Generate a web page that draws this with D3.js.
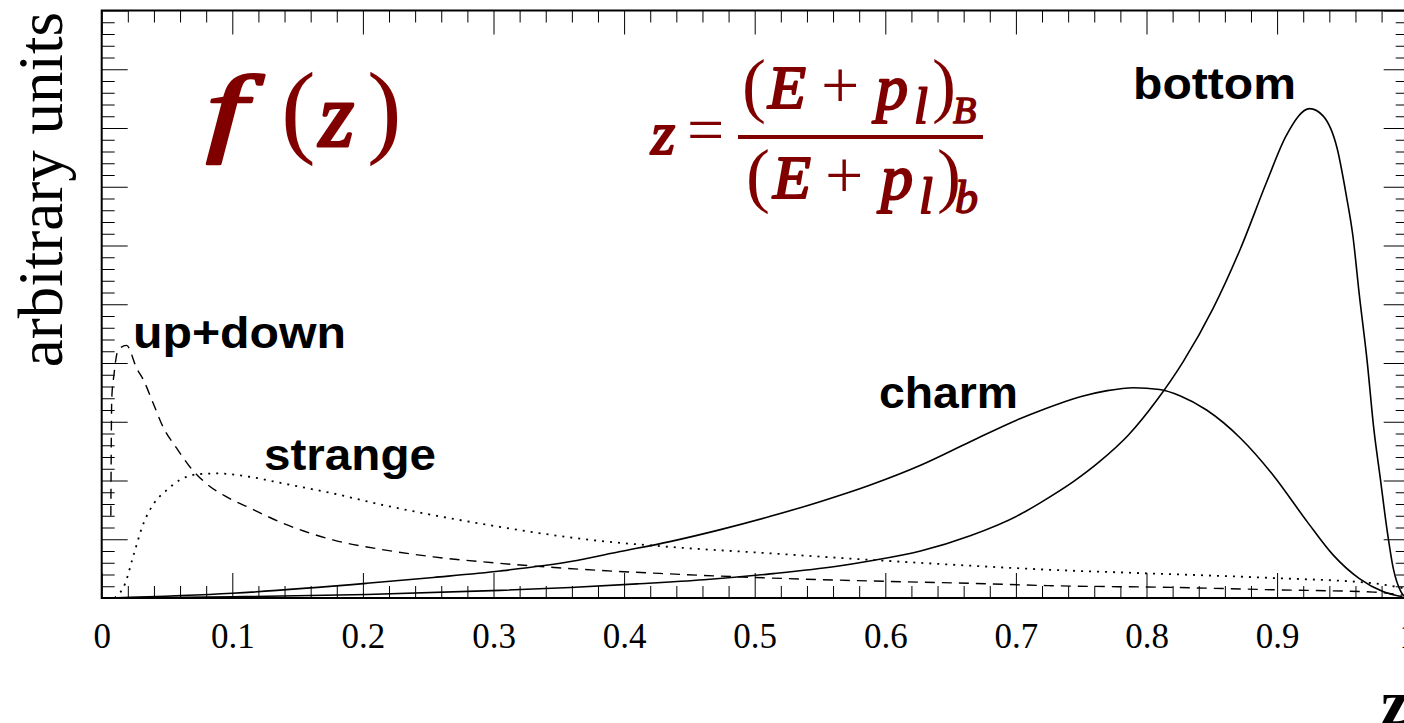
<!DOCTYPE html>
<html>
<head>
<meta charset="utf-8">
<script src="https://cdn.jsdelivr.net/npm/d3@7"></script>
<style>
  html, body { margin: 0; padding: 0; background: #fff; }
  svg { display: block; }
</style>
</head>
<body>
<div id="chart"></div>
<script>
// ---------------- data ----------------
const xMajorTicks = [0, 0.1, 0.2, 0.3, 0.4, 0.5, 0.6, 0.7, 0.8, 0.9, 1.0];
const xTickLabels = ["0", "0.1", "0.2", "0.3", "0.4", "0.5", "0.6", "0.7", "0.8", "0.9", "1"];
const yMajorTicks = [0, 1, 2, 3, 4, 5, 6, 7, 8, 9, 10];

const upDownZ = [0.0070, 0.0077, 0.0094, 0.0125, 0.019, 0.0268, 0.032, 0.0395, 0.047, 0.0574, 0.0676, 0.080, 0.0957, 0.1136, 0.139, 0.177, 0.216, 0.254, 0.305, 0.366, 0.435, 0.512, 0.588, 0.665, 0.726, 0.82, 0.897, 0.974, 0.996];
const upDownV = [1.40, 3.40, 3.80, 4.22, 4.30, 3.91, 3.71, 3.31, 2.91, 2.55, 2.23, 1.95, 1.72, 1.53, 1.27, 0.99, 0.82, 0.70, 0.59, 0.49, 0.41, 0.34, 0.29, 0.25, 0.21, 0.18, 0.14, 0.10, 0.05];

const strangeZ = [0.010, 0.018, 0.024, 0.032, 0.040, 0.050, 0.060, 0.075, 0.088, 0.114, 0.139, 0.177, 0.216, 0.254, 0.305, 0.366, 0.435, 0.512, 0.588, 0.665, 0.726, 0.80, 0.897, 0.974, 0.996];
const strangeV = [0.0, 0.25, 0.70, 1.27, 1.61, 1.84, 2.01, 2.11, 2.12, 2.06, 1.95, 1.78, 1.58, 1.41, 1.21, 1.01, 0.87, 0.76, 0.65, 0.55, 0.48, 0.42, 0.34, 0.25, 0.17];

const charmZ = [0.006, 0.10, 0.203, 0.254, 0.305, 0.359, 0.397, 0.435, 0.473, 0.512, 0.550, 0.588, 0.627, 0.665, 0.703, 0.720, 0.750, 0.770, 0.790, 0.810, 0.826, 0.846, 0.872, 0.897, 0.923, 0.943, 0.963, 0.981, 0.996];
const charmV = [0.0, 0.08, 0.25, 0.35, 0.46, 0.62, 0.79, 0.96, 1.16, 1.39, 1.64, 1.92, 2.26, 2.66, 3.05, 3.20, 3.43, 3.53, 3.58, 3.55, 3.44, 3.20, 2.72, 2.09, 1.30, 0.73, 0.33, 0.11, 0.02];

const bottomZ = [0.006, 0.10, 0.203, 0.305, 0.359, 0.41, 0.461, 0.512, 0.563, 0.588, 0.627, 0.665, 0.703, 0.7186, 0.744, 0.764, 0.786, 0.808, 0.828, 0.851, 0.872, 0.892, 0.907, 0.925, 0.935, 0.946, 0.953, 0.958, 0.963, 0.969, 0.974, 0.979, 0.984, 0.989, 0.995, 0.999];
const bottomV = [0.0, 0.02, 0.06, 0.13, 0.18, 0.24, 0.31, 0.41, 0.54, 0.63, 0.80, 1.06, 1.42, 1.62, 1.98, 2.32, 2.77, 3.37, 4.02, 4.93, 5.95, 7.08, 7.87, 8.33, 8.21, 7.65, 6.85, 6.17, 5.15, 4.02, 2.89, 2.04, 1.19, 0.50, 0.10, 0.0];

const curveNames = ["up+down", "strange", "charm", "bottom"];

// ---------------- layout ----------------
const W = 1404, H = 723;
const RED = "#800000";
const svg = d3.select("#chart").append("svg").attr("width", W).attr("height", H)
  .style("background", "#fff");

const x = d3.scaleLinear().domain([0, 1]).range([101.7, 1407.7]);
const y = d3.scaleLinear().domain([0, 10]).range([598, 10.5]);

const xMinor = d3.range(0, 50).map(i => i * 0.02).filter(v => Math.abs(v * 10 - Math.round(v * 10)) > 1e-6);
const yMinor = d3.range(0, 50).map(i => i * 0.2).filter(v => Math.abs(v - Math.round(v)) > 1e-6);

function styleAxis(g) {
  g.select(".domain").remove();
  g.selectAll(".tick line").attr("stroke", "#000").attr("stroke-width", 1);
}

// bottom axis
svg.append("g").attr("transform", `translate(0,${y(0)})`)
  .call(d3.axisBottom(x).tickValues(xMinor).tickSize(-12).tickFormat(""))
  .call(styleAxis);
const bx = svg.append("g").attr("transform", `translate(0,${y(0)})`)
  .call(d3.axisBottom(x).tickValues(xMajorTicks).tickSize(-25).tickPadding(25)
    .tickFormat((d, i) => xTickLabels[i]))
  .call(styleAxis);
bx.attr("font-size", 35).attr("font-family", "'Liberation Serif', 'Times New Roman', serif");
bx.selectAll(".tick text")
  .attr("font-family", "'Liberation Serif', 'Times New Roman', serif")
  .attr("font-size", 35).attr("fill", "#000");

// top axis
svg.append("g").attr("transform", `translate(0,${y(10)})`)
  .call(d3.axisTop(x).tickValues(xMinor).tickSize(-12).tickFormat(""))
  .call(styleAxis);
svg.append("g").attr("transform", `translate(0,${y(10)})`)
  .call(d3.axisTop(x).tickValues(xMajorTicks).tickSize(-24).tickFormat(""))
  .call(styleAxis);

// left axis
svg.append("g").attr("transform", `translate(${x(0)},0)`)
  .call(d3.axisLeft(y).tickValues(yMinor).tickSize(-13).tickFormat(""))
  .call(styleAxis);
svg.append("g").attr("transform", `translate(${x(0)},0)`)
  .call(d3.axisLeft(y).tickValues(yMajorTicks).tickSize(-26).tickFormat(""))
  .call(styleAxis);

// right axis
svg.append("g").attr("transform", `translate(${x(1)},0)`)
  .call(d3.axisRight(y).tickValues(yMinor).tickSize(-12).tickFormat(""))
  .call(styleAxis);
svg.append("g").attr("transform", `translate(${x(1)},0)`)
  .call(d3.axisRight(y).tickValues(yMajorTicks).tickSize(-24).tickFormat(""))
  .call(styleAxis);

// frame
svg.append("rect")
  .attr("x", x(0)).attr("y", y(10))
  .attr("width", x(1) - x(0)).attr("height", y(0) - y(10))
  .attr("fill", "none").attr("stroke", "#000").attr("stroke-width", 2);

// curves
const line = d3.line().x(d => x(d[0])).y(d => y(d[1])).curve(d3.curveMonotoneX);
const series = [
  { name: curveNames[0], z: upDownZ, v: upDownV, dash: "10,7", w: 1.4 },
  { name: curveNames[1], z: strangeZ, v: strangeV, dash: "2,6", w: 1.8 },
  { name: curveNames[2], z: charmZ, v: charmV, dash: null, w: 1.6 },
  { name: curveNames[3], z: bottomZ, v: bottomV, dash: null, w: 1.6 }
];
series.forEach(s => {
  svg.append("path")
    .datum(d3.zip(s.z, s.v))
    .attr("d", line)
    .attr("fill", "none")
    .attr("stroke", "#000")
    .attr("stroke-width", s.w)
    .attr("stroke-dasharray", s.dash);
});

// curve labels
const labelFont = "'Liberation Sans', Arial, Helvetica, sans-serif";
const labels = [
  { t: curveNames[3], x: 1133, y: 99, len: 163 },
  { t: curveNames[2], x: 879, y: 408, len: 139 },
  { t: curveNames[0], x: 133, y: 348, len: 213 },
  { t: curveNames[1], x: 264, y: 470, len: 172 }
];
labels.forEach(l => {
  svg.append("text").text(l.t)
    .attr("x", l.x).attr("y", l.y)
    .attr("font-family", labelFont).attr("font-weight", "bold")
    .attr("font-size", 45)
    .attr("textLength", l.len).attr("lengthAdjust", "spacingAndGlyphs")
    .attr("fill", "#000");
});

// y axis title
svg.append("text").text("arbitrary units")
  .attr("transform", "translate(62,12) rotate(-90)")
  .attr("text-anchor", "end")
  .attr("font-family", "'Liberation Serif', 'Times New Roman', serif")
  .attr("font-size", 63).attr("fill", "#000");

// x axis title
svg.append("text").text("z")
  .attr("x", 1381).attr("y", 724)
  .attr("font-family", "'Liberation Serif', 'Times New Roman', serif")
  .attr("font-weight", "bold")
  .attr("font-size", 64).attr("fill", "#000");

// math pieces: italic glyphs thickened with a stroke (true bold-italic face not installed)
const serif = "'Liberation Serif', 'Times New Roman', serif";
function piece(t, px, py, size, italic, sw, sx) {
  const el = svg.append("text").text(t)
    .attr("font-family", serif)
    .attr("font-size", size)
    .attr("font-style", italic ? "italic" : "normal")
    .attr("fill", RED);
  if (sx) el.attr("transform", `translate(${px},${py}) scale(${sx},1)`);
  else el.attr("x", px).attr("y", py);
  if (sw) el.attr("stroke", RED).attr("stroke-width", sw).attr("stroke-linejoin", "round");
}
// f(z)
piece("f", 206, 143, 98, true, 2.6, 1.5);
piece("(", 281, 144, 104, false, 0);
piece("z", 319, 146, 90, true, 3.0);
piece(")", 367, 144, 104, false, 0);

// formula z = (E+p_l)_B / (E+p_l)_b
piece("z", 651, 154, 62, true, 2.2);
piece("=", 687, 152, 66, false, 0);
svg.append("rect").attr("x", 738).attr("y", 135).attr("width", 245).attr("height", 4).attr("fill", RED);
// numerator
piece("(", 742, 109, 72, false, 0);
piece("E", 768, 108, 62, true, 2.2);
piece("+", 821, 108, 68, false, 0);
piece("p", 876, 109, 64, true, 2.2);
piece("l", 914, 123, 50, true, 1.8);
piece(")", 932, 109, 72, false, 0);
piece("B", 953, 123, 38, true, 1.5);
// denominator
piece("(", 746, 199, 72, false, 0);
piece("E", 773, 198, 62, true, 2.2);
piece("+", 825, 198, 68, false, 0);
piece("p", 881, 199, 64, true, 2.2);
piece("l", 919, 213, 50, true, 1.8);
piece(")", 937, 199, 72, false, 0);
piece("b", 955, 213, 46, true, 1.6);
</script>
</body>
</html>
